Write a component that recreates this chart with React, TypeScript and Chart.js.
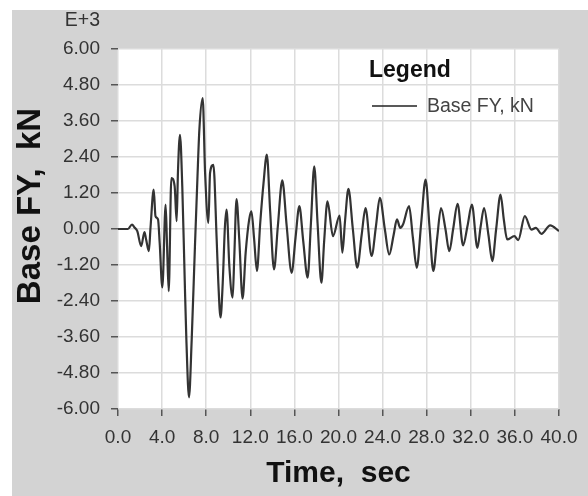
import React, { useEffect, useRef } from "react";
import { Chart, registerables } from "chart.js";

Chart.register(...registerables);

// Time (sec) and Base FY (kN, x1000)
const times: number[] = [
  0, 0.9, 1.27, 1.5, 1.75, 2.1, 2.4, 2.55, 2.8, 2.95, 3.24, 3.4, 3.63, 3.78, 4.02, 4.32, 4.45, 4.6,
  4.84, 5.14, 5.32, 5.44, 5.62, 5.83, 6.05, 6.2, 6.44, 6.68, 6.98, 7.2, 7.38, 7.68, 7.9, 8.2, 8.35,
  8.65, 8.95, 9.1, 9.3, 9.5, 9.7, 9.85, 10.1, 10.4, 10.55, 10.75, 11.0, 11.3, 11.58, 11.9, 12.1,
  12.35, 12.6, 12.9, 13.2, 13.5, 13.8, 14.15, 14.5, 14.9, 15.3, 15.75, 16.1, 16.45, 16.8, 17.2,
  17.5, 17.8, 18.1, 18.45, 18.7, 19.0, 19.5, 20.1, 20.35, 20.6, 20.9, 21.3, 21.7, 22.1, 22.45,
  23.0, 23.4, 23.75, 24.2, 24.6, 25.0, 25.3, 25.6, 25.85, 26.4, 26.75, 27.1, 27.5, 27.9, 28.25,
  28.6, 28.95, 29.3, 29.7, 30.05, 30.4, 30.8, 31.3, 31.7, 32.1, 32.6, 32.9, 33.2, 33.6, 33.95,
  34.3, 34.7, 35.0, 35.3, 35.95, 36.3, 36.9, 37.5, 37.9, 38.4, 39.2, 40.0,
];

const baseFY: number[] = [
  0, 0, 0.15, 0.05, -0.07, -0.57, -0.1, -0.35, -0.74, 0.05, 1.31, 0.43, 0.32, -0.46, -1.95, 0.81,
  -0.57, -2.07, 1.7, 1.42, 0.26, 1.92, 3.14, 1.42, -1.68, -3.67, -5.61, -3.73, -0.57, 1.65, 3.31,
  4.36, 1.87, 0.2, 1.87, 2.14, -0.35, -1.79, -2.95, -1.79, 0.09, 0.65, -1.24, -2.29, -0.9, 1.0,
  -0.35, -2.32, -0.79, 0.32, 0.59, -0.35, -1.4, 0.2, 1.53, 2.48, 0.6, -1.35, 0.1, 1.62, 0.1, -1.46,
  -0.3, 0.76, -0.4, -1.62, 0.2, 2.09, 0.2, -1.79, -0.4, 0.92, -0.24, 0.45, -0.79, 0.3, 1.34, 0.0,
  -1.29, -0.2, 0.7, -0.9, 0.1, 1.04, 0.0, -0.85, -0.2, 0.32, 0.04, 0.15, 0.76, -0.3, -1.29, 0.2,
  1.65, 0.1, -1.4, -0.3, 0.7, 0.0, -0.74, 0.0, 0.84, -0.55, 0.1, 0.81, -0.63, 0.1, 0.7, -0.2,
  -1.07, 0.0, 1.15, 0.3, -0.35, -0.24, -0.37, 0.43, -0.02, 0.04, -0.16, 0.12, -0.07,
];

const xTicks: number[] = [0, 4, 8, 12, 16, 20, 24, 28, 32, 36, 40];
const yTicks: number[] = [-6, -4.8, -3.6, -2.4, -1.2, 0, 1.2, 2.4, 3.6, 4.8, 6];

const seriesLabel = "Base FY, kN";
const legendTitle = "Legend";
const xTitle = "Time,  sec";
const yTitle = "Base FY,  kN";
const exponentLabel = "E+3";

const FONT = "'Liberation Sans', Arial, Helvetica, sans-serif";

export default function App() {
  const ref = useRef<HTMLCanvasElement | null>(null);

  useEffect(() => {
    const canvas = ref.current;
    if (!canvas) return;

    const decorPlugin = {
      id: "decor",
      beforeDraw(chart: any) {
        const { ctx, chartArea } = chart;
        ctx.save();
        ctx.fillStyle = "#ffffff";
        ctx.fillRect(0, 0, chart.width, chart.height);
        ctx.fillStyle = "#d3d3d3";
        ctx.fillRect(12, 10, chart.width - 12, chart.height - 10);
        ctx.fillStyle = "#ffffff";
        ctx.fillRect(
          chartArea.left,
          chartArea.top,
          chartArea.right - chartArea.left,
          chartArea.bottom - chartArea.top
        );
        ctx.restore();
      },
      afterDraw(chart: any) {
        const { ctx, chartArea } = chart;
        ctx.save();
        // exponent label
        ctx.fillStyle = "#333";
        ctx.font = `19.5px ${FONT}`;
        ctx.textAlign = "right";
        ctx.textBaseline = "alphabetic";
        ctx.fillText(exponentLabel, 100, 26);

        // legend
        ctx.fillStyle = "#111";
        ctx.font = `bold 23px ${FONT}`;
        ctx.textAlign = "left";
        ctx.fillText(legendTitle, 369, 77);
        ctx.strokeStyle = "#222";
        ctx.lineWidth = 1.5;
        ctx.beginPath();
        ctx.moveTo(372, 106);
        ctx.lineTo(417, 106);
        ctx.stroke();
        ctx.fillStyle = "#444";
        ctx.font = `19.5px ${FONT}`;
        ctx.fillText(seriesLabel, 427, 112);

        // axis titles
        ctx.fillStyle = "#111";
        ctx.font = `bold 30px ${FONT}`;
        ctx.textAlign = "center";
        ctx.textBaseline = "middle";
        ctx.fillText(xTitle, (chartArea.left + chartArea.right) / 2, 474);

        ctx.translate(31, 206);
        ctx.rotate(-Math.PI / 2);
        ctx.font = `bold 33px ${FONT}`;
        ctx.fillText(yTitle, 0, 0);
        ctx.restore();
      },
    };

    const chart = new Chart(canvas, {
      type: "line",
      data: {
        datasets: [
          {
            label: seriesLabel,
            data: times.map((t, i) => ({ x: t, y: baseFY[i] })),
            borderColor: "#333",
            borderWidth: 2.2,
            pointRadius: 0,
            cubicInterpolationMode: "monotone",
            fill: false,
          },
        ],
      },
      options: {
        animation: false,
        responsive: false,
        maintainAspectRatio: false,
        layout: { padding: { top: 49, right: 29, left: 0, bottom: 0 } },
        plugins: {
          legend: { display: false },
          tooltip: { enabled: false },
          title: { display: false },
        },
        scales: {
          x: {
            type: "linear",
            min: 0,
            max: 40,
            afterFit(scale: any) {
              scale.height = 87;
            },
            afterBuildTicks(scale: any) {
              scale.ticks = xTicks.map((v) => ({ value: v }));
            },
            border: { display: false },
            grid: {
              color: "#dcdcdc",
              lineWidth: 1.5,
              drawTicks: true,
              tickLength: 7,
              tickColor: "#555",
              tickWidth: 1.5,
            },
            ticks: {
              autoSkip: false,
              maxRotation: 0,
              padding: 10,
              color: "#333",
              font: { family: FONT, size: 19 },
              callback: (v: any) => Number(v).toFixed(1),
            },
          },
          y: {
            type: "linear",
            min: -6,
            max: 6,
            afterFit(scale: any) {
              scale.width = 118;
            },
            afterBuildTicks(scale: any) {
              scale.ticks = yTicks.map((v) => ({ value: v }));
            },
            border: { display: false },
            grid: {
              color: "#dcdcdc",
              lineWidth: 1.5,
              drawTicks: true,
              tickLength: 7,
              tickColor: "#555",
              tickWidth: 1.5,
            },
            ticks: {
              autoSkip: false,
              padding: 11,
              color: "#333",
              font: { family: FONT, size: 19 },
              callback: (v: any) => {
                const s = Number(v).toFixed(2);
                return s === "-0.00" ? "0.00" : s;
              },
            },
          },
        },
      },
      plugins: [decorPlugin],
    } as any);

    return () => chart.destroy();
  }, []);

  return (
    <div style={{ position: "absolute", left: 0, top: 0, width: 588, height: 496 }}>
      <canvas ref={ref} width={588} height={496} style={{ display: "block", width: 588, height: 496 }} />
    </div>
  );
}
